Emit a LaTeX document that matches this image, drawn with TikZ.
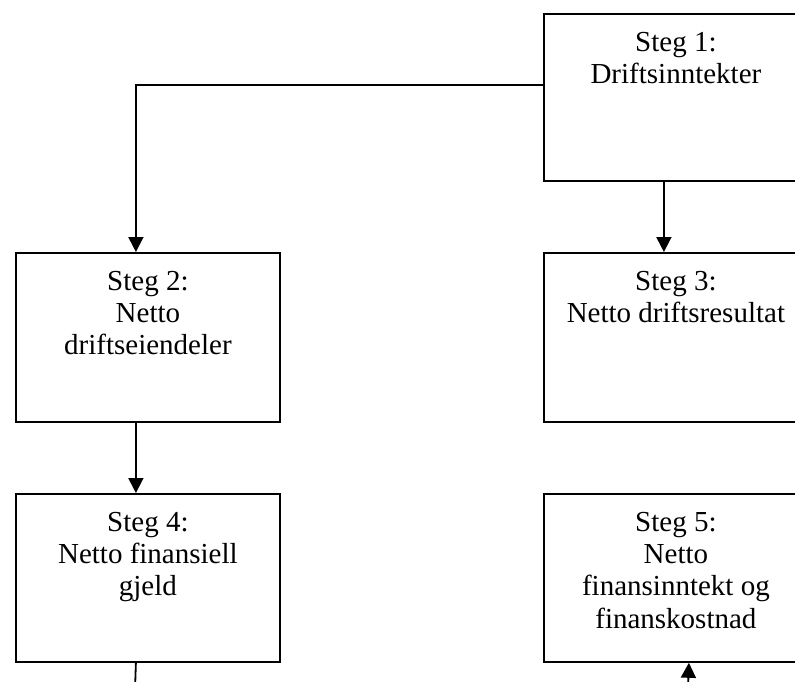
\documentclass[tikz,border=0pt]{standalone}
\usepackage{fontspec}
\setmainfont{Liberation Serif}
\usetikzlibrary{arrows.meta}
\begin{document}
\begin{tikzpicture}[x=1pt,y=-1pt,
  box/.style={draw,line width=1.8pt,minimum width=264pt,inner sep=0pt,anchor=north west},
  lbl/.style={anchor=north,inner sep=0pt,align=center,font=\fontsize{29}{32.3}\selectfont},
  conn/.style={line width=1.8pt},
  arr/.style={conn,-{Triangle[width=15pt,length=15pt]}}]
\useasboundingbox (0,0) rectangle (795,682);
\clip (0,0) rectangle (795,682);
\fill[white] (0,0) rectangle (795,682);
\node[box,minimum height=167pt] (b1) at (543,13) {};
\node[box,minimum height=169pt] (b2) at (15,252) {};
\node[box,minimum height=169pt] (b3) at (543,252) {};
\node[box,minimum height=168pt] (b4) at (15,493) {};
\node[box,minimum height=168pt] (b5) at (543,493) {};
\node[lbl] (t1) at ([yshift=-15.4pt]b1.north) {\strut Steg 1:\\Driftsinntekter};
\node[lbl] (t2) at ([yshift=-15.4pt]b2.north) {\strut Steg 2:\\Netto\\driftseiendeler};
\node[lbl] (t3) at ([yshift=-15.4pt]b3.north) {\strut Steg 3:\\Netto driftsresultat};
\node[lbl] (t4) at ([yshift=-15.4pt]b4.north) {\strut Steg 4:\\Netto finansiell\\gjeld};
\node[lbl] (t5) at ([yshift=-15.4pt]b5.north) {\strut Steg 5:\\Netto\\finansinntekt og\\finanskostnad};
\coordinate (e4) at (135,690);
\coordinate (e5) at (688,690);
\draw[arr] ([yshift=-72pt]b1.north west) -| ([xshift=-12pt]b2.north);
\draw[arr] ([xshift=-12pt]b1.south) -- ([xshift=-12pt]b3.north);
\draw[arr] ([xshift=-12pt]b2.south) -- ([xshift=-12pt]b4.north);
\draw[conn] ([xshift=-12pt]b4.south) -- (e4);
\draw[arr] (e5) -- ([xshift=13pt]b5.south);
\end{tikzpicture}
\end{document}
